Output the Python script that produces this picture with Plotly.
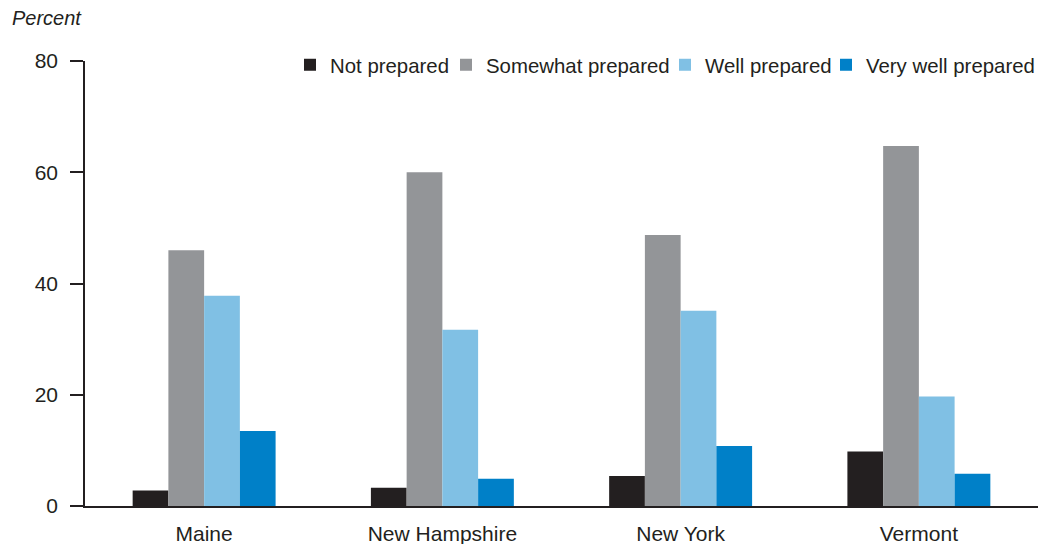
import plotly.graph_objects as go

states = ["Maine", "New Hampshire", "New York", "Vermont"]
not_prepared = [2.8, 3.3, 5.4, 9.8]
somewhat_prepared = [46.0, 60.0, 48.7, 64.7]
well_prepared = [37.8, 31.7, 35.1, 19.7]
very_well_prepared = [13.5, 4.9, 10.8, 5.8]

series = [
    ("Not prepared", not_prepared, "#231f20"),
    ("Somewhat prepared", somewhat_prepared, "#939598"),
    ("Well prepared", well_prepared, "#80c0e4"),
    ("Very well prepared", very_well_prepared, "#0080c8"),
]
# pixel x where each legend label's text starts
legend_text_x = [330, 486, 705, 866]

W, H = 1038, 544
ML, MR, MT, MB = 85, 0, 61, 38
PW, PH = W - ML - MR, H - MT - MB

fig = go.Figure()
layout_legends = {}
for i, (name, vals, col) in enumerate(series):
    key = "legend" if i == 0 else f"legend{i + 1}"
    fig.add_trace(go.Bar(x=states, y=vals, name=name, marker_color=col,
                         marker_line_width=0, legend=key))
    layout_legends[key] = dict(
        x=(legend_text_x[i] - 40 - ML) / PW, xanchor="left",
        y=1 - (65 - MT) / PH, yanchor="middle",
        font=dict(size=20.4, color="#231f20"), itemwidth=30,
        bgcolor="rgba(0,0,0,0)", borderwidth=0,
    )

font_family = "Liberation Sans, Arial, sans-serif"
fig.update_layout(
    width=W, height=H,
    margin=dict(l=ML, r=MR, t=MT, b=MB, autoexpand=False),
    plot_bgcolor="white", paper_bgcolor="white",
    barmode="group", bargap=0.4, bargroupgap=0,
    font=dict(family=font_family, size=21, color="#231f20"),
    showlegend=True,
    xaxis=dict(showline=True, linecolor="#231f20", linewidth=1.5, ticks="",
               showgrid=False, tickfont=dict(size=21), range=[-0.5, 3.5],
               ticklabelstandoff=8),
    yaxis=dict(range=[0, 80], tickvals=[0, 20, 40, 60, 80], showline=True,
               linecolor="#231f20", linewidth=1.5, ticks="outside", ticklen=13,
               tickwidth=1.5, tickcolor="#231f20", showgrid=False, zeroline=False,
               ticklabelstandoff=8, tickfont=dict(size=21)),
    annotations=[dict(text="<i>Percent</i>", x=(10 - ML) / PW, y=1 + (MT - 18) / PH,
                      xref="paper", yref="paper", showarrow=False,
                      xanchor="left", yanchor="middle",
                      font=dict(size=20, color="#231f20"))],
    **layout_legends,
)
fig.write_html("out.html", config={"displayModeBar": False},
               post_script="document.body.style.margin='0';")
